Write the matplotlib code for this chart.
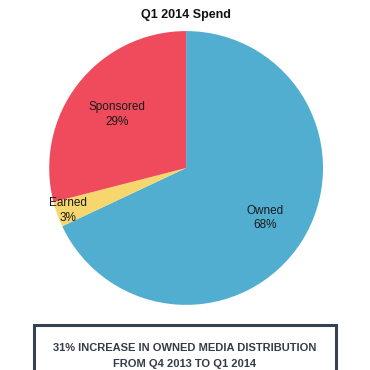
import matplotlib
matplotlib.use('Agg')
import matplotlib.pyplot as plt
import numpy as np
from matplotlib.patches import Rectangle

plt.rcParams['font.family'] = ['Liberation Sans', 'DejaVu Sans']

# Dados
categories = ['Owned', 'Earned', 'Sponsored']
values = [68, 3, 29]
colors = ['#52AED1', '#F5D76E', '#EF4B5C']
label_dist = [0.68, 0.92, 0.64]

title = 'Q1 2014 Spend'
note = '31% INCREASE IN OWNED MEDIA DISTRIBUTION\nFROM Q4 2013 TO Q1 2014'

fig = plt.figure(figsize=(3.7, 3.7), dpi=100)
ax = fig.add_axes([0.133, 0.176, 0.74, 0.74])
wedges, _ = ax.pie(values, colors=colors, startangle=90, counterclock=False,
                   wedgeprops={'linewidth': 0})
ax.set_xlim(-1, 1)
ax.set_ylim(-1, 1)
ax.set_aspect('equal')

# rótulos dentro das fatias
for w, cat, v, d in zip(wedges, categories, values, label_dist):
    ang = np.deg2rad((w.theta1 + w.theta2) / 2)
    ax.text(d * np.cos(ang), d * np.sin(ang), f'{cat}\n{v}%',
            ha='center', va='center', fontsize=8.5, color='#1a1a1a',
            linespacing=1.3)

fig.text(0.503, 0.959, title, ha='center', va='center', fontsize=9,
         fontweight='bold', color='#111111')

# caixa de destaque
box = Rectangle((0.091, -0.05), 0.818, 0.172, transform=fig.transFigure,
                fill=False, edgecolor='#37424f', linewidth=2.2)
fig.patches.append(box)
fig.text(0.5, 0.038, note, ha='center', va='center', fontsize=8,
         fontweight='bold', color='#333d48', linespacing=1.75)

fig.savefig('out.png', dpi=100)
